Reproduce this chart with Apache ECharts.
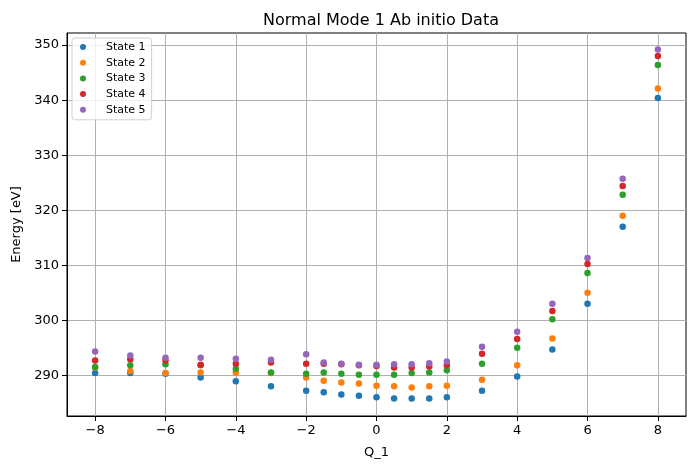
<!DOCTYPE html>
<html>
<head>
<meta charset="UTF-8">
<title>Normal Mode 1 Ab initio Data</title>
<script src="https://cdn.jsdelivr.net/npm/echarts@6/dist/echarts.min.js"></script>
<style>
  html, body { margin: 0; padding: 0; background: #fff; }
  #main { width: 695px; height: 470px; }
</style>
</head>
<body>
<div id="main"></div>
<script type="text/javascript">
// displacement along normal mode 1
var qValues = [-8, -7, -6, -5, -4, -3, -2, -1.5, -1, -0.5, 0, 0.5, 1, 1.5, 2, 3, 4, 5, 6, 7, 8];

// energies [eV] per electronic state
var state1 = [290.4, 290.4, 290.3, 289.6, 288.9, 288.0, 287.2, 286.9, 286.5, 286.3, 286.0, 285.8, 285.8, 285.8, 286.0, 287.2, 289.8, 294.7, 303.0, 317.0, 340.4];
var state2 = [291.4, 290.8, 290.4, 290.5, 290.5, 290.4, 289.6, 289.0, 288.7, 288.5, 288.1, 288.0, 287.8, 288.0, 288.1, 289.2, 291.8, 296.7, 305.0, 319.0, 342.1];
var state3 = [291.5, 291.8, 292.0, 291.8, 291.2, 290.5, 290.3, 290.5, 290.3, 290.1, 290.1, 290.1, 290.4, 290.5, 290.9, 292.1, 295.0, 300.2, 308.6, 322.8, 346.4];
var state4 = [292.7, 292.9, 292.7, 291.9, 292.1, 292.3, 292.1, 292.1, 292.0, 291.8, 291.7, 291.4, 291.4, 291.6, 291.8, 293.9, 296.6, 301.7, 310.2, 324.4, 348.0];
var state5 = [294.3, 293.6, 293.2, 293.2, 293.0, 292.8, 293.8, 292.3, 292.1, 291.9, 291.9, 292.0, 292.0, 292.2, 292.5, 295.2, 297.9, 303.0, 311.3, 325.7, 349.2];

var stateNames = ['State 1', 'State 2', 'State 3', 'State 4', 'State 5'];
var xTicks = [-8, -6, -4, -2, 0, 2, 4, 6, 8];
var yTicks = [290, 300, 310, 320, 330, 340, 350];

var colors = ['#1f77b4', '#ff7f0e', '#2ca02c', '#d62728', '#9467bd'];
var allStates = [state1, state2, state3, state4, state5];

function pairs(ys) {
    return qValues.map(function (q, i) { return [q, ys[i]]; });
}
function fmt(v) {
    return v < 0 ? '\u2212' + (-v) : String(v);
}

var myChart = echarts.init(document.getElementById('main'), null, { renderer: 'canvas' });

var series = allStates.map(function (ys, i) {
    return {
        name: stateNames[i],
        type: 'scatter',
        symbolSize: 6.5,
        itemStyle: { color: colors[i], opacity: 1 },
        emphasis: { disabled: true },
        data: pairs(ys)
    };
});

var option = {
    animation: false,
    textStyle: { fontFamily: 'DejaVu Sans' },
    title: {
        text: 'Normal Mode 1 Ab initio Data',
        left: 376,
        textAlign: 'center',
        top: 8,
        textStyle: { fontFamily: 'DejaVu Sans', fontSize: 16, fontWeight: 'normal', color: '#000' }
    },
    legend: {
        orient: 'vertical',
        left: 72,
        top: 38,
        icon: 'circle',
        itemWidth: 14,
        itemHeight: 6,
        itemGap: 3.7,
        padding: [3, 6, 4, 8],
        backgroundColor: 'rgba(255,255,255,0.8)',
        borderColor: '#d0d0d0',
        borderWidth: 1,
        borderRadius: 3,
        textStyle: { fontFamily: 'DejaVu Sans', fontSize: 11, color: '#000', padding: [0, 0, 0, 11], lineHeight: 12 },
        data: stateNames
    },
    grid: {
        left: 67, right: 9, top: 33, bottom: 54,
        show: true, borderColor: '#000', borderWidth: 1, backgroundColor: 'transparent',
        containLabel: false
    },
    xAxis: {
        type: 'value',
        min: -8.8,
        max: 8.8,
        name: 'Q_1',
        nameLocation: 'middle',
        nameGap: 30,
        nameTextStyle: { fontFamily: 'DejaVu Sans', fontSize: 13, color: '#000' },
        axisLine: { onZero: false, lineStyle: { color: '#000', width: 1 } },
        axisTick: { show: true, inside: false, length: 5, customValues: xTicks, lineStyle: { color: '#000' } },
        axisLabel: { customValues: xTicks, formatter: fmt, fontSize: 13, color: '#000', margin: 8 },
        splitLine: { show: true, lineStyle: { color: '#b0b0b0', width: 1 } }
    },
    yAxis: {
        type: 'value',
        min: 282.6,
        max: 352.2,
        name: 'Energy [eV]',
        nameLocation: 'middle',
        nameGap: 44,
        nameTextStyle: { fontFamily: 'DejaVu Sans', fontSize: 13, color: '#000' },
        axisLine: { show: true, onZero: false, lineStyle: { color: '#000', width: 1 } },
        axisTick: { show: true, inside: false, length: 5, customValues: yTicks, lineStyle: { color: '#000' } },
        axisLabel: { customValues: yTicks, formatter: fmt, fontSize: 13, color: '#000', margin: 8 },
        splitLine: { show: true, lineStyle: { color: '#b0b0b0', width: 1 } }
    },
    series: series
};

myChart.setOption(option);
</script>
</body>
</html>
